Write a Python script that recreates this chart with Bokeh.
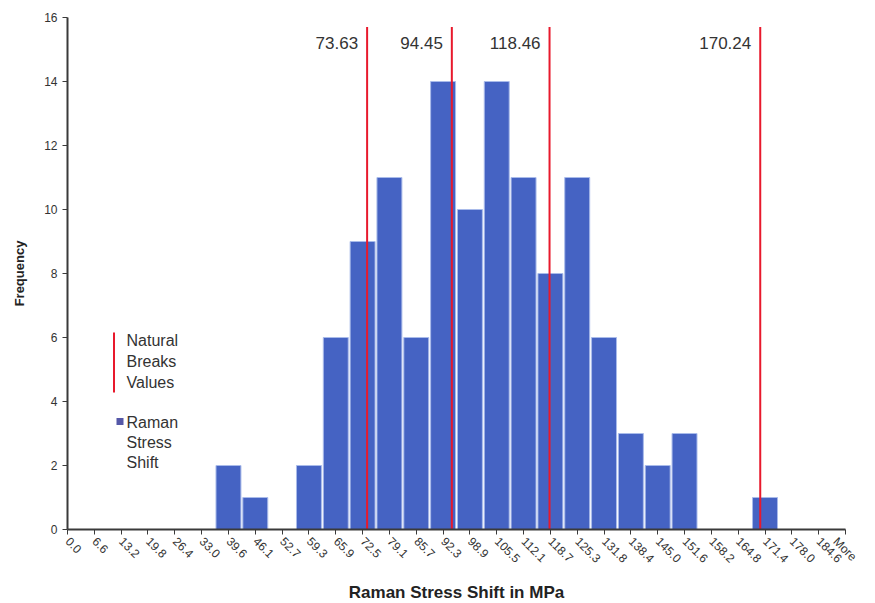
import math
from bokeh.plotting import figure
from bokeh.models import Range1d, FixedTicker
from bokeh.core.properties import value
from bokeh.embed import file_html
from bokeh.resources import INLINE

# ---- data ----
bin_labels = ["0.0", "6.6", "13.2", "19.8", "26.4", "33.0", "39.6", "46.1", "52.7", "59.3",
              "65.9", "72.5", "79.1", "85.7", "92.3", "98.9", "105.5", "112.1", "118.7", "125.3",
              "131.8", "138.4", "145.0", "151.6", "158.2", "164.8", "171.4", "178.0", "184.6", "More"]
frequency = [0, 0, 0, 0, 0, 0, 2, 1, 0, 2,
             6, 9, 11, 6, 14, 10, 14, 11, 8, 11,
             6, 3, 2, 3, 0, 0, 1, 0, 0, 0]
break_values = [73.63, 94.45, 118.46, 170.24]
break_labels = ["73.63", "94.45", "118.46", "170.24"]
y_ticks = [0, 2, 4, 6, 8, 10, 12, 14, 16]

FONT = "Liberation Sans"
n = len(bin_labels)
idx = list(range(n))
# bin width in value units (numeric labels are evenly spaced)
bin_step = float(bin_labels[n - 2]) / (n - 2)
break_idx = [v / bin_step for v in break_values]

FW, FH = 778, 512
p = figure(frame_width=FW, frame_height=FH,
           x_range=Range1d(0, n - 1), y_range=Range1d(0, y_ticks[-1]),
           output_backend="svg", toolbar_location=None,
           min_border_left=67, min_border_right=14, min_border_top=17, min_border_bottom=58)
p.outline_line_color = None
p.background_fill_color = "white"
p.border_fill_color = "white"
p.xgrid.visible = False
p.ygrid.visible = False

# bars
p.vbar(x=idx, top=frequency, width=0.93, fill_color="#4563C3",
       line_color="#A9BBEA", line_width=1)

# natural breaks lines
p.segment(x0=break_idx, y0=[0] * len(break_idx), x1=break_idx, y1=[15.7] * len(break_idx),
          line_color="#E8192C", line_width=2)
p.text(x=break_idx, y=[y_ticks[-1]] * len(break_idx), text=break_labels,
       text_align="right", text_baseline="middle", x_offset=-9, y_offset=25,
       text_font=value(FONT), text_font_size="17px", text_color="#333333")

# axes
xa = p.xaxis[0]
xa.ticker = FixedTicker(ticks=idx)
xa.major_label_overrides = {i: lab for i, lab in enumerate(bin_labels)}
xa.major_label_orientation = -math.pi / 4
xa.axis_label = "Raman Stress Shift in MPa"
ya = p.yaxis[0]
ya.ticker = FixedTicker(ticks=y_ticks)
ya.axis_label = "Frequency"
for ax in (xa, ya):
    ax.axis_line_color = "#3a3a3a"
    ax.axis_line_width = 2
    ax.major_tick_line_color = "#3a3a3a"
    ax.major_tick_out = 5
    ax.major_tick_in = 0
    ax.minor_tick_line_color = None
    ax.major_label_text_font = FONT
    ax.major_label_text_font_size = "12px"
    ax.major_label_text_color = "#333333"
    ax.axis_label_text_font = FONT
    ax.axis_label_text_font_style = "bold"
    ax.axis_label_text_color = "#222222"
xa.axis_label_text_font_size = "17px"
ya.axis_label_text_font_size = "13px"
xa.axis_label_standoff = 9
ya.axis_label_standoff = 14

# manual legend in frame pixel coordinates (origin bottom-left)
p.extra_x_ranges = {"px": Range1d(0, FW)}
p.extra_y_ranges = {"px": Range1d(0, FH)}
p.segment(x0=[46.5], y0=[137], x1=[46.5], y1=[197], line_color="#E8192C", line_width=2,
          x_range_name="px", y_range_name="px")
p.rect(x=[52.5], y=[108], width=7, height=7, fill_color="#5558A8", line_color=None,
       x_range_name="px", y_range_name="px")
legend_lines = ["Natural", "Breaks", "Values", "Raman", "Stress", "Shift"]
p.text(x=[59] * 6, y=[189, 168, 147, 107, 87, 67], text=legend_lines,
       text_align="left", text_baseline="middle",
       text_font=value(FONT), text_font_size="16px", text_color="#333333",
       x_range_name="px", y_range_name="px")

open("out.html", "w").write(file_html(p, INLINE))
